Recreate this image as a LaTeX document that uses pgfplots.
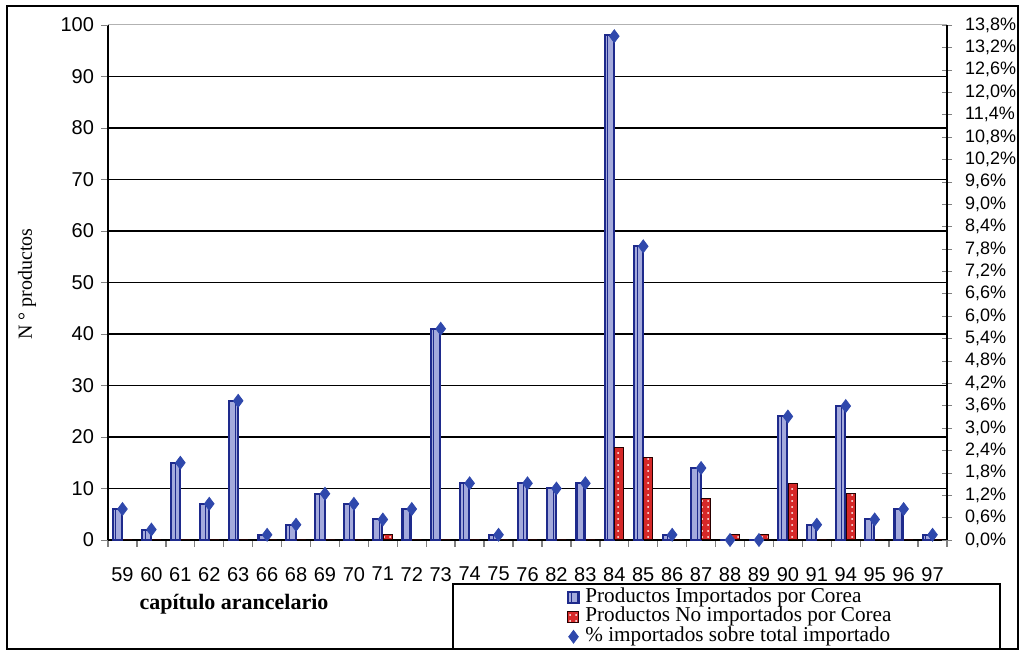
\documentclass[border=0pt]{standalone}
\usepackage{fontspec}
\setmainfont{Liberation Serif}
\newfontfamily\ticksfont{Liberation Sans}
\usepackage{pgfplots}
\pgfplotsset{compat=1.18}
\usepackage{pgfplotstable}
\usetikzlibrary{patterns}
\definecolor{barblue}{HTML}{1E2A8C}
\definecolor{barfill}{HTML}{A4AADC}
\definecolor{barred}{HTML}{D62828}
\definecolor{diam}{HTML}{2F48AC}

\pgfplotstableread{
idx imp noimp pct
0  6  0 0.83
1  2  0 0.28
2  15 0 2.07
3  7  0 0.97
4  27 0 3.73
5  1  0 0.14
6  3  0 0.41
7  9  0 1.24
8  7  0 0.97
9  4  1 0.55
10 6  0 0.83
11 41 0 5.66
12 11 0 1.52
13 1  0 0.14
14 11 0 1.52
15 10 0 1.38
16 11 0 1.52
17 98 18 13.5
18 57 16 7.87
19 1  0 0.14
20 14 8 1.93
21 0  1 0
22 0  1 0
23 24 11 3.31
24 3  0 0.41
25 26 9 3.59
26 4  0 0.55
27 6  0 0.83
28 1  0 0.14
}\datatable

\pgfplotsset{
  blubar/.style={fill=barfill, draw=barblue, line width=1.0pt,
     postaction={pattern=vertical lines, pattern color=barblue}},
  redbar/.style={fill=barred, draw=black!85!red, line width=0.5pt,
     postaction={pattern=dots, pattern color=white}},
  legbar/.style={legend image code/.code={\draw[##1] (0pt,-2.8pt) rectangle (5.6pt,2.8pt);}},
  legdiam/.style={legend image code/.code={\draw[mark repeat=2,mark phase=2,##1] plot coordinates {(0pt,0pt) (3pt,0pt) (6pt,0pt)};}},
}

\begin{document}
\begin{tikzpicture}
\useasboundingbox (-54pt,-55.5pt) rectangle (456.5pt,270pt);
\begin{axis}[
  scale only axis, width=419.5pt, height=257.5pt,
  at={(0pt,0pt)}, anchor=south west,
  xmin=-0.5, xmax=28.5, ymin=0, ymax=100,
  axis x line*=bottom, axis y line*=left,
  axis line style={-, line width=0.7pt},
  ybar=0.4pt, bar width=4.6pt,
  xtick={0,...,28},
  xticklabels={59,60,61,62,63,66,68,69,70,71,72,73,74,75,76,82,83,84,85,86,87,88,89,90,91,94,95,96,97},
  major x tick style={draw=none},
  minor xtick={-0.5,0.5,...,28.5},
  minor x tick style={line width=0.7pt},
  minor tick length=3.5pt,
  tick align=outside,
  major tick length=3.5pt,
  ytick={0,10,...,90},
  extra y ticks={100},
  extra y tick style={grid style={gray!60, line width=0.5pt}},
  ymajorgrids,
  grid style={black, line width=0.6pt},
  /pgf/number format/assume math mode=true,
  ticklabel style={font=\fontsize{10}{12}\selectfont\ticksfont},
  xticklabel style={yshift=-6.5pt},
  clip=false,
]
\addplot[blubar] table[x=idx,y=imp]{\datatable};
\addplot[redbar] table[x=idx,y=noimp]{\datatable};
\end{axis}
\begin{axis}[
  scale only axis, width=419.5pt, height=257.5pt,
  at={(0pt,0pt)}, anchor=south west,
  xmin=-0.5, xmax=28.5, ymin=0, ymax=13.8,
  axis x line=none, axis y line*=right,
  axis line style={-, line width=0.7pt},
  ytick={0,0.6,1.2,1.8,2.4,3.0,3.6,4.2,4.8,5.4,6.0,6.6,7.2,7.8,8.4,9.0,9.6,10.2,10.8,11.4,12.0,12.6,13.2,13.8},
  tick align=center, major tick length=5pt,
  /pgf/number format/assume math mode=true,
  yticklabel={\pgfmathprintnumber[fixed,fixed zerofill,precision=1,use comma]{\tick}\%},
  ticklabel style={font=\fontsize{9}{11}\selectfont\ticksfont},
  yticklabel style={xshift=3pt},
  clip=false,
  legend cell align=left,
  legend style={at={(0.546,-0.091)}, anchor=north west, draw=none, fill=none,
    inner sep=0pt, row sep=0pt, column sep=0pt,
    /tikz/every odd column/.append style={column sep=2.2pt},
    nodes={inner sep=0.6pt, text height=6.8pt, text depth=1.9pt, font=\fontsize{10.6}{11}\selectfont}},
]
\addlegendimage{legbar, blubar}
\addlegendentry{Productos Importados por Corea}
\addlegendimage{legbar, redbar}
\addlegendentry{Productos No importados por Corea}
\addplot[only marks, mark=diamond*, mark size=3.2pt, color=diam, legdiam] table[x=idx,y=pct]{\datatable};
\addlegendentry{\% importados sobre total importado}
\end{axis}
\draw[line width=1pt] (-50.5pt,-54.75pt) rectangle (455pt,267pt);
\draw[line width=0.8pt] (172.5pt,-22pt) rectangle (446pt,-54.75pt);
\node[font=\fontsize{11}{12}\selectfont\bfseries] at (63pt,-32pt) {capítulo arancelario};
\node[rotate=90, font=\fontsize{10}{12}\selectfont] at (-40.5pt,128pt) {N ° productos};
\end{tikzpicture}
\end{document}
